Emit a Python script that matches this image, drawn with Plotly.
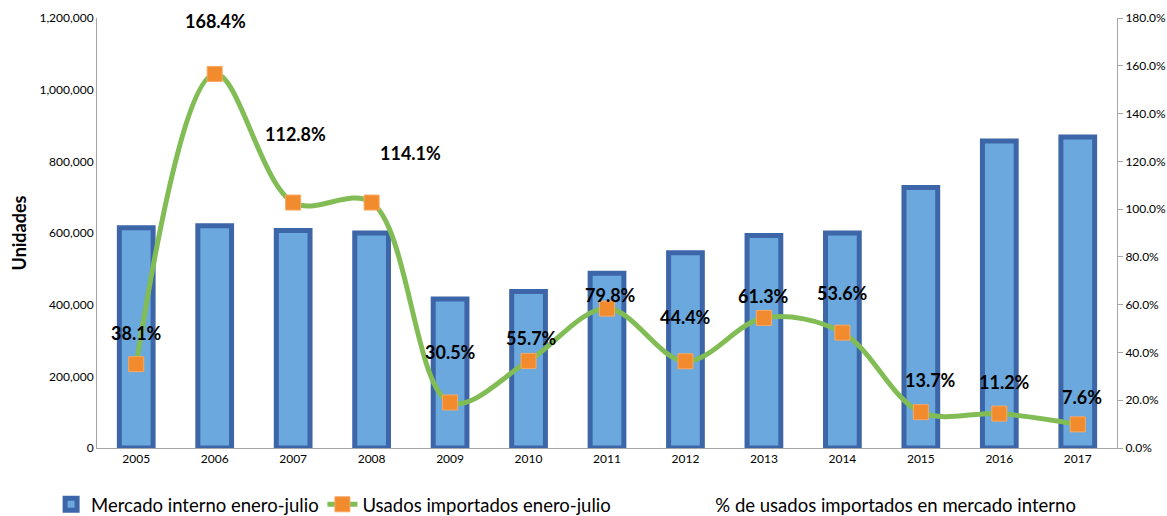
import plotly.graph_objects as go

# Datos enero-julio
years = [2005, 2006, 2007, 2008, 2009, 2010, 2011,
         2012, 2013, 2014, 2015, 2016, 2017]
mercado_interno = [615000, 620000, 607000, 600000, 416000, 437000, 488000,
                   545000, 593000, 600000, 727000, 857000, 868000]
usados_importados = [234000, 1044000, 685000, 685000, 127000, 243000, 389000,
                     242000, 363000, 322000, 100000, 96000, 66000]
pct_usados = [38.1, 168.4, 112.8, 114.1, 30.5, 55.7, 79.8,
              44.4, 61.3, 53.6, 13.7, 11.2, 7.6]

# label offsets (px) relative to the line markers, as placed by hand in the original
label_dx = [0, 1, 2, 39, 0, 3, 3, 0, 0, 0, 10, 5, 4]
label_dy = [31, 53, 69, 50, 50, 23, 14, 44, 22, 40, 32, 32, 27]

FONT = "Lato, 'Open Sans', sans-serif"
NARROW = "'Liberation Sans Narrow', Lato, sans-serif"

fig = go.Figure()

fig.add_trace(
    go.Bar(
        name="Mercado interno enero-julio",
        x=years,
        y=mercado_interno,
        width=0.43,
        marker=dict(color="#6AA8DE", line=dict(color="#3C66A8", width=5)),
        legend="legend",
    )
)

fig.add_trace(
    go.Scatter(
        name="Usados importados enero-julio",
        x=years,
        y=usados_importados,
        mode="lines+markers",
        line=dict(color="#82BC55", width=5, shape="spline", smoothing=1.0),
        marker=dict(symbol="square", size=15, color="#F28A2E",
                    line=dict(color="#F8A860", width=1)),
        legend="legend2",
    )
)

# percentage series lives on the right axis, drawn without a line
fig.add_trace(
    go.Scatter(
        name="% de usados importados en mercado interno",
        x=years,
        y=[p / 100 for p in pct_usados],
        mode="lines",
        line=dict(color="rgba(0,0,0,0)", width=0),
        yaxis="y2",
        hoverinfo="skip",
        legend="legend3",
    )
)

for yr, val, pct, dx, dy in zip(years, usados_importados, pct_usados, label_dx, label_dy):
    fig.add_annotation(
        x=yr, y=val, xref="x", yref="y",
        text=f"{pct:.1f}%",
        showarrow=False,
        xshift=dx, yshift=dy,
        font=dict(family=FONT, size=18, color="#000000", weight="bold"),
    )

legend_common = dict(
    orientation="h",
    yanchor="middle",
    y=-0.132,
    xanchor="left",
    font=dict(family=FONT, size=18.5, color="#000000"),
    bgcolor="rgba(0,0,0,0)",
    itemwidth=30,
)

fig.update_layout(
    width=1167,
    height=516,
    margin=dict(l=97, r=50, t=18, b=68, autoexpand=False),
    plot_bgcolor="#FFFFFF",
    paper_bgcolor="#FFFFFF",
    showlegend=True,
    legend=dict(legend_common, x=-0.045),
    legend2=dict(legend_common, x=0.221),
    legend3=dict(legend_common, x=0.567),
    xaxis=dict(
        range=[2004.5, 2017.5],
        tickmode="array",
        tickvals=years,
        ticktext=[str(y) for y in years],
        showgrid=False,
        zeroline=False,
        showline=True,
        linecolor="#A6A6A6",
        linewidth=1,
        ticks="",
        automargin=False,
        tickfont=dict(family=NARROW, size=12, color="#000000"),
    ),
    yaxis=dict(
        range=[0, 1200000],
        dtick=200000,
        tickformat=",",
        showgrid=False,
        zeroline=False,
        showline=True,
        linecolor="#A6A6A6",
        linewidth=1,
        ticks="",
        automargin=False,
        tickfont=dict(family=FONT, size=12, color="#000000"),
        title=dict(text="<b>Unidades</b>", standoff=8,
                   font=dict(family=FONT, size=18, color="#000000")),
    ),
    yaxis2=dict(
        overlaying="y",
        side="right",
        range=[0, 1.8],
        dtick=0.2,
        tickformat=".1%",
        showgrid=False,
        zeroline=False,
        showline=True,
        linecolor="#A6A6A6",
        linewidth=1,
        ticks="outside",
        ticklen=5,
        tickcolor="#A6A6A6",
        automargin=False,
        tickfont=dict(family=FONT, size=12, color="#000000"),
    ),
)

# drop the default page margin so the figure fills the window exactly
fig.write_html(
    "out.html",
    config={"displayModeBar": False},
    post_script="document.body.style.margin='0';",
)
